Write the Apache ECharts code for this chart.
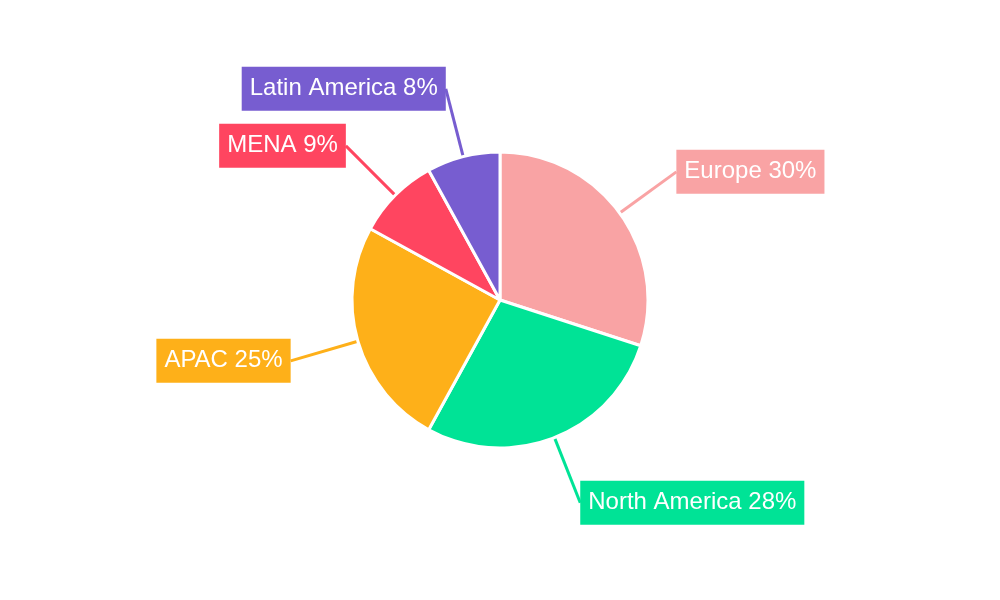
<!DOCTYPE html>
<html>
<head>
<meta charset="utf-8">
<script src="https://cdn.jsdelivr.net/npm/echarts@6/dist/echarts.min.js"></script>
<style>html,body{margin:0;background:#fff}#main{width:1000px;height:600px}</style>
</head>
<body>
<div id="main"></div>
<script>
const regions = ["Europe", "North America", "APAC", "MENA", "Latin America"];
const shares = [30, 28, 25, 9, 8];
const colors = ["#F9A3A4", "#00E396", "#FEB019", "#FF4560", "#775DD0"];

const myChart = echarts.init(document.getElementById("main"));
myChart.setOption({
  animation: false,
  series: [
    {
      type: "pie",
      center: ["50%", "50%"],
      radius: [0, 148],
      startAngle: 90,
      clockwise: true,
      itemStyle: { borderColor: "#fff", borderWidth: 3 },
      label: {
        show: true,
        formatter: "{b} {c}%",
        color: "#fff",
        fontFamily: "Liberation Sans",
        fontSize: 24,
        padding: [10, 8, 10, 8],
        distanceToLabelLine: 0,
      },
      labelLine: { length: 70, length2: 0, lineStyle: { width: 3 } },
      data: regions.map((name, i) => ({
        name: name,
        value: shares[i],
        itemStyle: { color: colors[i] },
        label: { backgroundColor: colors[i] },
      })),
    },
  ],
});
</script>
</body>
</html>
